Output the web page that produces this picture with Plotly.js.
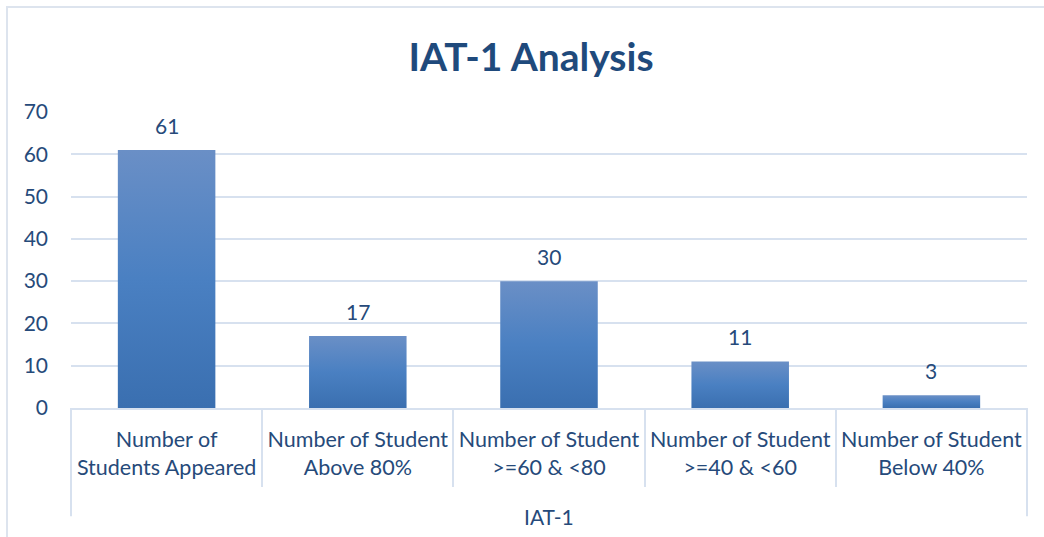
<!DOCTYPE html>
<html>
<head>
<meta charset="utf-8">
<script src="https://cdn.plot.ly/plotly-3.0.1.min.js"></script>
<style>
  html, body { margin: 0; padding: 0; background: #ffffff; }
  #frame { position: absolute; left: 6px; top: 6px; width: 1100px; height: 600px;
           border-left: 2px solid #dde4ee; border-top: 2px solid #dde4ee; pointer-events: none; }
  #chart { position: absolute; left: 0; top: 0; width: 1044px; height: 537px; }
</style>
</head>
<body>
<div id="frame"></div>
<div id="chart"></div>
<script>
const categories = [
  "Number of<br>Students Appeared",
  "Number of Student<br>Above 80%",
  "Number of Student<br>>=60 & <80",
  "Number of Student<br>>=40 & <60",
  "Number of Student<br>Below 40%"
];
const values = [61, 17, 30, 11, 3];
const groupLabel = "IAT-1";
const yTicks = [0, 10, 20, 30, 40, 50, 60, 70];

const textColor = "#264a7a";
const gridColor = "#d7e1ef";
const font = "Lato, 'Open Sans', sans-serif";

const trace = {
  type: "bar",
  x: categories,
  y: values,
  marker: { color: "#4a7ebf" },
  hoverinfo: "none",
  cliponaxis: false
};

const annotations = values.map((v, i) => ({
  x: categories[i], y: v, xref: "x", yref: "y",
  text: String(v), showarrow: false, yanchor: "bottom", yshift: 10,
  font: { family: font, size: 21, color: textColor }
}));
annotations.push({
  xref: "paper", yref: "paper", x: 0.5, y: 0, yshift: -108, yanchor: "middle",
  text: groupLabel, showarrow: false,
  font: { family: font, size: 21, color: textColor }
});

const layout = {
  width: 1044, height: 537,
  margin: { l: 71, r: 17, t: 112, b: 129 },
  paper_bgcolor: "rgba(0,0,0,0)",
  plot_bgcolor: "rgba(0,0,0,0)",
  title: { text: "<b>IAT-1 Analysis</b>", x: 0.5086, xanchor: "center", y: 0.893, yanchor: "middle",
           font: { family: font, size: 39, color: "#1f4a7c" } },
  bargap: 0.49,
  showlegend: false,
  xaxis: {
    type: "category",
    tickson: "boundaries",
    ticks: "outside", ticklen: 77, tickwidth: 2, tickcolor: gridColor,
    showline: true, linecolor: gridColor, linewidth: 2,
    showgrid: false,
    ticklabelstandoff: 11,
    tickfont: { family: font, size: 21.5, color: textColor },
    fixedrange: true
  },
  yaxis: {
    range: [0, 70], tickvals: yTicks,
    showgrid: true, gridcolor: gridColor, gridwidth: 2,
    zeroline: false, showline: false,
    ticks: "", ticklabelstandoff: 22,
    tickfont: { family: font, size: 21, color: textColor },
    fixedrange: true
  },
  shapes: [
    { type: "line", xref: "paper", yref: "paper", x0: 0, x1: 0, y0: 0, y1: -0.366, line: { color: gridColor, width: 2 } },
    { type: "line", xref: "paper", yref: "paper", x0: 1, x1: 1, y0: 0, y1: -0.366, line: { color: gridColor, width: 2 } }
  ],
  annotations: annotations
};

Plotly.newPlot("chart", [trace], layout, { staticPlot: true, displayModeBar: false }).then(gd => {
  const svg = gd.querySelector("svg.main-svg");
  const ns = "http://www.w3.org/2000/svg";
  let defs = svg.querySelector("defs");
  if (!defs) { defs = document.createElementNS(ns, "defs"); svg.insertBefore(defs, svg.firstChild); }
  const grad = document.createElementNS(ns, "linearGradient");
  grad.setAttribute("id", "barGrad");
  grad.setAttribute("x1", "0"); grad.setAttribute("y1", "0");
  grad.setAttribute("x2", "0"); grad.setAttribute("y2", "1");
  [["0%", "#6a8fc6"], ["50%", "#4a80c2"], ["100%", "#3a6fb0"]].forEach(([o, c]) => {
    const s = document.createElementNS(ns, "stop");
    s.setAttribute("offset", o); s.setAttribute("stop-color", c);
    grad.appendChild(s);
  });
  defs.appendChild(grad);
  gd.querySelectorAll(".trace.bars .point path").forEach(p => {
    p.style.fill = "url(#barGrad)";
  });
});
</script>
</body>
</html>
